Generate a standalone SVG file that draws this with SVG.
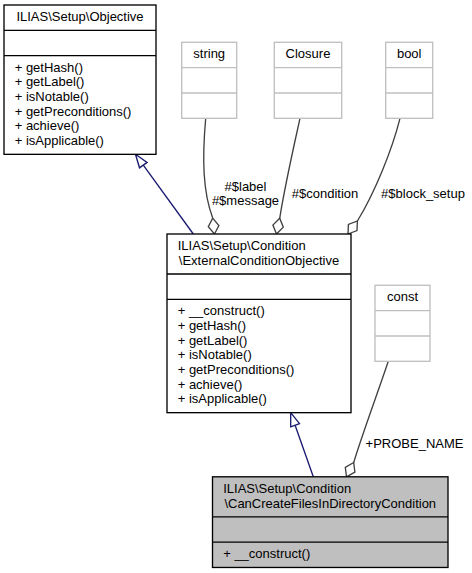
<svg xmlns="http://www.w3.org/2000/svg" width="472" height="573" viewBox="0 0 472 573">
<style>
text{font-family:"Liberation Sans",Arial,Helvetica,sans-serif;font-size:13px;fill:#000}
.c{text-anchor:middle}
.box{fill:#fff;stroke:#000;stroke-width:1.33}
.ext{fill:#fff;stroke:#bfbfbf;stroke-width:1.33}
.cur{fill:#bfbfbf;stroke:#000;stroke-width:1.33}
.div{stroke:#000;stroke-width:1.33}
.dive{stroke:#bfbfbf;stroke-width:1.33}
.inh{fill:none;stroke:#191970;stroke-width:1.33}
.inhh{fill:#fff;stroke:#191970;stroke-width:1.33}
.agg{fill:none;stroke:#404040;stroke-width:1.33}
.aggh{fill:#fff;stroke:#404040;stroke-width:1.33}
</style>
<rect width="472" height="573" fill="#fff"/>
<g id="edges">
<path class="inh" d="M143.3,165.1 L193.3,234"/>
<polygon class="inhh" points="135.5,154.3 147.1,162.4 139.5,167.8"/>
<path class="inh" d="M295.1,425.3 L313.3,476.8"/>
<polygon class="inhh" points="290.7,412.7 299.5,423.7 290.7,426.8"/>
<path class="agg" d="M205.7,118.3 C202,160 203,192 212.7,218.1"/>
<polygon class="aggh" points="214.5,234 218.9,225.5 212.7,218.1 208.3,226.6"/>
<text class="c" x="245.5" y="190.7">#$label</text>
<text class="c" x="245.5" y="205.3">#$message</text>
<path class="agg" d="M300,118.3 C293,150 285,185 279.7,218.3"/>
<polygon class="aggh" points="276.5,234 283.3,227.2 279.7,218.3 272.9,225.1"/>
<text class="c" x="325" y="198">#$condition</text>
<path class="agg" d="M400,118.3 C392,150 375,192 357.4,221"/>
<polygon class="aggh" points="348,234 357,230.6 357.4,221 348.4,224.4"/>
<text class="c" x="423" y="198">#$block_setup</text>
<path class="agg" d="M388.3,361.3 C378,392 362,435 353.7,462.5"/>
<polygon class="aggh" points="346.5,476.8 354.9,472.1 353.7,462.5 345.3,467.3"/>
<text class="c" x="414.5" y="448">+PROBE_NAME</text>
</g>
<g id="objective">
<rect class="box" x="4" y="5" width="152" height="149.33"/>
<line class="div" x1="4" y1="30.33" x2="156" y2="30.33"/>
<line class="div" x1="4" y1="55.67" x2="156" y2="55.67"/>
<text class="c" x="80" y="21">ILIAS\Setup\Objective</text>
<text x="14.7" y="71.7">+ getHash()</text>
<text x="14.7" y="86.3">+ getLabel()</text>
<text x="14.7" y="101">+ isNotable()</text>
<text x="14.7" y="115.7">+ getPreconditions()</text>
<text x="14.7" y="130.3">+ achieve()</text>
<text x="14.7" y="145">+ isApplicable()</text>
</g>
<g id="string">
<rect class="ext" x="181.7" y="42.3" width="55" height="76"/>
<line class="dive" x1="181.7" y1="67.67" x2="236.7" y2="67.67"/>
<line class="dive" x1="181.7" y1="93" x2="236.7" y2="93"/>
<text class="c" x="209.2" y="58.3">string</text>
</g>
<g id="closure">
<rect class="ext" x="274.3" y="42.3" width="67.4" height="76"/>
<line class="dive" x1="274.3" y1="67.67" x2="341.7" y2="67.67"/>
<line class="dive" x1="274.3" y1="93" x2="341.7" y2="93"/>
<text class="c" x="308" y="58.3">Closure</text>
</g>
<g id="bool">
<rect class="ext" x="385.7" y="42.3" width="47" height="76"/>
<line class="dive" x1="385.7" y1="67.67" x2="432.7" y2="67.67"/>
<line class="dive" x1="385.7" y1="93" x2="432.7" y2="93"/>
<text class="c" x="409.2" y="58.3">bool</text>
</g>
<g id="const">
<rect class="ext" x="375" y="285.3" width="55" height="76"/>
<line class="dive" x1="375" y1="310.67" x2="430" y2="310.67"/>
<line class="dive" x1="375" y1="336" x2="430" y2="336"/>
<text class="c" x="402.5" y="301.3">const</text>
</g>
<g id="external">
<rect class="box" x="167" y="234" width="184" height="178.67"/>
<line class="div" x1="167" y1="274" x2="351" y2="274"/>
<line class="div" x1="167" y1="299.33" x2="351" y2="299.33"/>
<text x="177.7" y="250">ILIAS\Setup\Condition</text>
<text class="c" x="259" y="264.7">\ExternalConditionObjective</text>
<text x="177.7" y="315.3">+ __construct()</text>
<text x="177.7" y="330">+ getHash()</text>
<text x="177.7" y="344.7">+ getLabel()</text>
<text x="177.7" y="359.3">+ isNotable()</text>
<text x="177.7" y="374">+ getPreconditions()</text>
<text x="177.7" y="388.7">+ achieve()</text>
<text x="177.7" y="403.3">+ isApplicable()</text>
</g>
<g id="derived">
<rect class="cur" x="212.5" y="476.8" width="235.5" height="90.67"/>
<line class="div" x1="212.5" y1="516.8" x2="448" y2="516.8"/>
<line class="div" x1="212.5" y1="542.13" x2="448" y2="542.13"/>
<text x="223.2" y="492.8">ILIAS\Setup\Condition</text>
<text class="c" x="330.25" y="507.5">\CanCreateFilesInDirectoryCondition</text>
<text x="223.2" y="558.1">+ __construct()</text>
</g>
</svg>
